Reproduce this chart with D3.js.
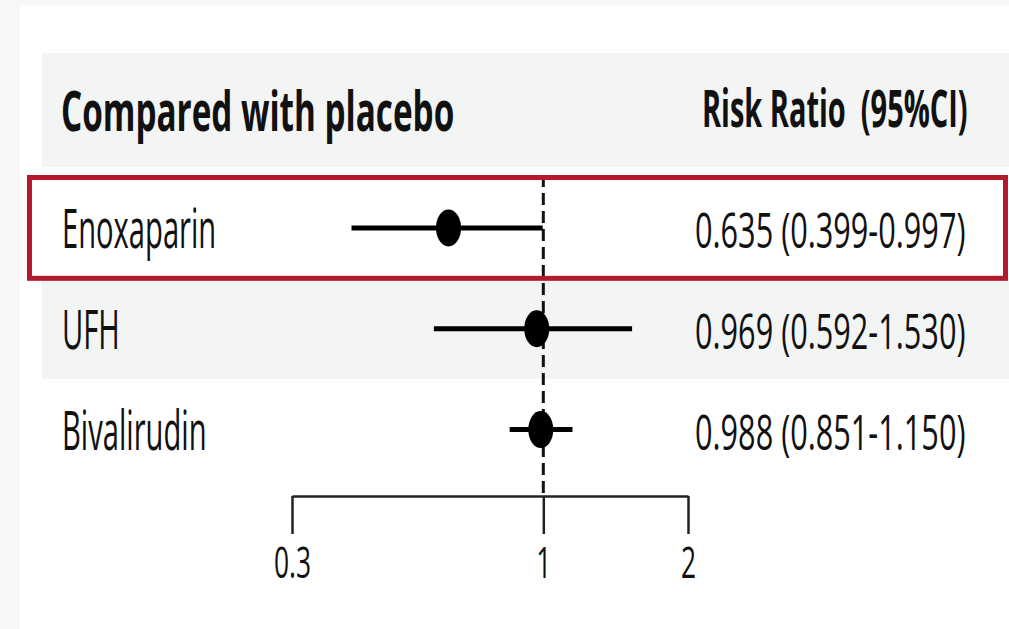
<!DOCTYPE html>
<html>
<head>
<meta charset="utf-8">
<script src="https://cdn.jsdelivr.net/npm/d3@7"></script>
<style>
  html, body { margin: 0; padding: 0; background: #f7f7f7; }
  svg { display: block; }
  text { font-family: "Open Sans", "Liberation Sans", sans-serif; fill: #111; white-space: pre; }
</style>
</head>
<body>
<svg id="chart" width="1009" height="629"></svg>
<script>
// Forest plot: risk ratios vs placebo
const treatments = ["Enoxaparin", "UFH", "Bivalirudin"];
const riskRatio  = [0.635, 0.969, 0.988];
const ciLower    = [0.399, 0.592, 0.851];
const ciUpper    = [0.997, 1.530, 1.150];
const tickValues = [0.3, 1, 2];
const tickLabels = ["0.3", "1", "2"];
const headerLeft  = "Compared with placebo";
const headerRight = "Risk Ratio  (95%CI)";
const highlighted = "Enoxaparin";

const W = 1009, H = 629;
const svg = d3.select("#chart");

// page panel
svg.append("rect").attr("width", W).attr("height", H).attr("fill", "#f7f7f7");
svg.append("rect").attr("x", 20).attr("y", 5).attr("width", W - 20).attr("height", H - 5).attr("fill", "#ffffff");

// scales
const x = d3.scaleLog().domain([0.3, 2]).range([292, 688]);
const y = d3.scaleBand().domain(treatments).range([177.5, 480]).padding(0);

const fmt = d3.format(".3f");
const rows = treatments.map((t, i) => ({
  name: t, rr: riskRatio[i], lo: ciLower[i], hi: ciUpper[i],
  label: `${fmt(riskRatio[i])} (${fmt(ciLower[i])}-${fmt(ciUpper[i])})`
}));

// header band
svg.append("rect").attr("x", 42).attr("y", 53).attr("width", W - 42).attr("height", 114).attr("fill", "#f3f4f4");

// alternating row shading
svg.selectAll("rect.band").data(rows.filter((d, i) => i % 2 === 1)).join("rect")
  .attr("class", "band")
  .attr("x", 42).attr("y", d => y(d.name))
  .attr("width", W - 42).attr("height", y.bandwidth())
  .attr("fill", "#f3f4f4");

// horizontally condensed text helper
function squashedText(sel, tx, ty, sx, anchor) {
  return sel.attr("transform", `translate(${tx},${ty}) scale(${sx},1)`)
    .attr("text-anchor", anchor || "start");
}

// headers
squashedText(svg.append("text").text(headerLeft), 61, 131, 0.594)
  .attr("font-size", 56).attr("font-weight", 700);
squashedText(svg.append("text").text(headerRight), 702, 127, 0.557)
  .attr("font-size", 52).attr("font-weight", 700);

// reference line at RR = 1
svg.append("line")
  .attr("x1", x(1)).attr("x2", x(1))
  .attr("y1", 175).attr("y2", 496)
  .attr("stroke", "#111").attr("stroke-width", 3)
  .attr("stroke-dasharray", "12,6");

// axis
const axis = d3.axisBottom(x)
  .tickValues(tickValues)
  .tickFormat((d, i) => tickLabels[i])
  .tickSize(38).tickSizeOuter(0).tickPadding(13);
const gAxis = svg.append("g").attr("transform", "translate(0,496)").call(axis);
gAxis.select(".domain").attr("stroke", "#222").attr("stroke-width", 2.5);
gAxis.selectAll(".tick line").attr("stroke", "#222").attr("stroke-width", 2.5);
gAxis.selectAll(".tick text")
  .attr("font-size", 44).attr("font-family", "Open Sans, sans-serif")
  .attr("fill", "#111")
  .attr("transform", "scale(0.6,1)");

// rows
const g = svg.selectAll("g.row").data(rows).join("g").attr("class", "row");
const cy = d => y(d.name) + y.bandwidth() / 2;

g.append("line")
  .attr("x1", d => x(d.lo)).attr("x2", d => x(d.hi))
  .attr("y1", cy).attr("y2", cy)
  .attr("stroke", "#000").attr("stroke-width", 5);

g.append("ellipse")
  .attr("cx", d => x(d.rr)).attr("cy", cy)
  .attr("rx", 12.5).attr("ry", 18.5)
  .attr("fill", "#000");

g.each(function(d) {
  const row = d3.select(this);
  const base = y(d.name) + y.bandwidth() / 2 + 20;
  squashedText(row.append("text").text(d.name), 62, base, 0.54).attr("font-size", 54);
  squashedText(row.append("text").text(d.label), 695, base, 0.626).attr("font-size", 49);
});

// highlight box around the selected row
svg.append("rect")
  .attr("x", 29.5).attr("y", y(highlighted))
  .attr("width", W - 33).attr("height", y.bandwidth())
  .attr("fill", "none").attr("stroke", "#b31b2c").attr("stroke-width", 5);
</script>
</body>
</html>
